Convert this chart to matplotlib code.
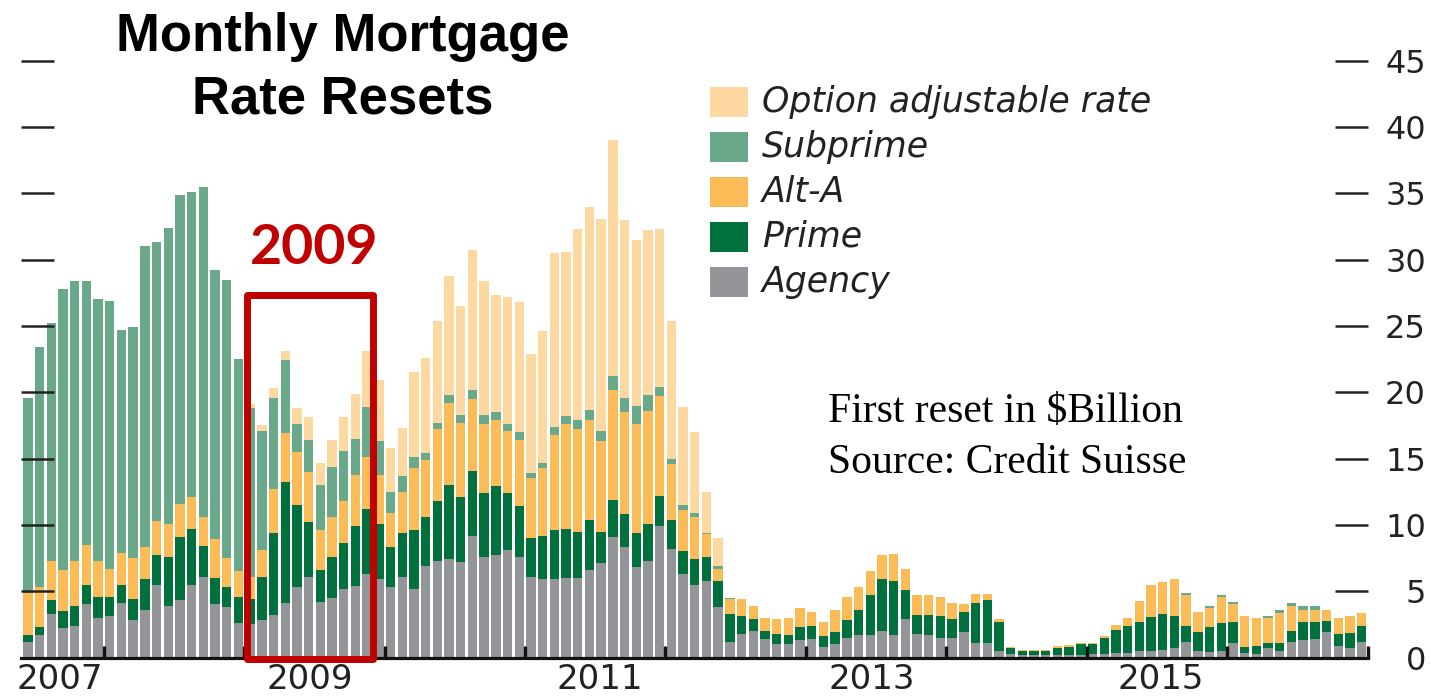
import numpy as np
import matplotlib
matplotlib.use("Agg")
import matplotlib.pyplot as plt
from matplotlib.patches import Rectangle

# monthly first resets, $ billion, June 2007 - December 2016
agency = [1.2, 1.7, 3.3, 2.2, 2.4, 4.0, 3.0, 3.1, 4.1, 2.8, 3.6, 5.5, 3.9, 4.3, 5.5, 6.1, 4.0, 3.8, 2.6,
          2.5, 2.8, 3.2, 4.1, 5.3, 6.1, 4.2, 4.5, 5.2, 5.4, 6.3, 5.9,
          5.3, 6.1, 5.2, 6.9, 7.3, 7.4, 7.2, 9.2, 7.6, 7.7, 8.1, 7.6,
          6.1, 5.9, 5.9, 6.0, 6.0, 6.6, 7.1, 9.1, 8.3, 6.8, 7.3, 9.9,
          8.2, 6.3, 5.5, 5.8, 3.8, 1.2, 1.8, 2.0, 1.4, 1.0, 1.0, 1.3,
          1.4, 0.8, 1.0, 1.5, 1.7, 1.7, 2.0, 1.7, 2.9, 1.8, 1.7, 1.5,
          1.5, 1.9, 1.1, 1.1, 0.5, 0.3, 0.2, 0.2, 0.2, 0.2, 0.2, 0.2,
          0.25, 0.3, 0.35, 0.35, 0.5, 0.5, 0.6, 0.75, 1.2, 0.5, 0.4, 0.5,
          1.1, 0.35, 0.3, 0.7, 0.5, 1.15, 1.3, 1.4, 1.9, 0.85, 0.75, 1.2]
prime = [0.5, 0.6, 1.0, 1.3, 1.5, 1.5, 1.6, 1.5, 1.4, 1.6, 2.3, 2.2, 3.7, 4.8, 4.2, 2.3, 2.0, 1.5, 2.0,
         1.9, 3.3, 6.2, 9.1, 6.2, 4.1, 2.4, 3.1, 3.4, 4.5, 4.9, 4.2,
         3.0, 3.3, 4.4, 3.7, 4.5, 5.6, 4.9, 4.9, 4.8, 5.2, 4.3, 3.8,
         2.9, 3.3, 3.7, 3.7, 3.5, 3.8, 2.4, 2.8, 2.5, 2.6, 2.8, 2.3,
         2.2, 1.7, 1.9, 1.8, 2.0, 2.1, 1.3, 0.9, 0.6, 0.8, 0.7, 1.0,
         1.0, 0.8, 0.9, 1.3, 1.9, 3.0, 3.9, 4.1, 2.2, 1.4, 1.5, 1.6,
         1.4, 1.5, 3.0, 3.2, 2.2, 0.4, 0.3, 0.3, 0.3, 0.5, 0.6, 0.8,
         0.75, 1.2, 1.7, 2.05, 2.2, 2.55, 2.7, 2.4, 1.15, 1.4, 1.9, 2.1,
         1.6, 0.45, 0.6, 0.4, 0.6, 0.85, 1.4, 1.3, 0.85, 0.9, 1.1, 1.15]
alt_a = [3.2, 3.0, 3.0, 3.1, 3.4, 3.0, 2.7, 2.1, 2.4, 3.1, 2.4, 2.6, 2.5, 2.5, 2.4, 2.2, 2.9, 2.2, 1.9,
         1.7, 2.0, 3.3, 3.7, 4.0, 3.8, 3.0, 3.0, 3.2, 3.9, 3.9, 3.7,
         2.6, 3.1, 4.7, 4.3, 5.4, 6.2, 5.6, 5.4, 5.2, 5.0, 4.7, 5.0,
         4.5, 5.1, 7.2, 7.9, 7.7, 7.5, 6.8, 8.3, 7.7, 8.2, 8.5, 7.5,
         4.2, 3.1, 3.2, 1.7, 0.9, 1.1, 1.3, 1.0, 1.0, 1.1, 1.3, 1.4,
         1.0, 1.1, 1.7, 1.8, 1.7, 1.8, 1.8, 2.0, 1.6, 1.5, 1.5, 1.5,
         1.2, 0.6, 0.7, 0.5, 0.2, 0.1, 0.05, 0.05, 0.05, 0.15, 0.15, 0.1,
         0.1, 0.1, 0.4, 0.6, 1.55, 2.4, 2.4, 2.75, 2.4, 1.55, 1.4, 2.0,
         1.35, 2.3, 2.1, 1.9, 2.25, 1.9, 0.85, 0.9, 0.8, 1.25, 1.3, 1.0]
subprime = [14.7, 18.1, 17.9, 21.2, 21.1, 19.9, 19.7, 20.2, 16.8, 17.4, 22.7, 21.0, 22.3, 23.3, 23.0, 24.9, 20.3, 21.0, 16.0,
            12.7, 9.0, 6.9, 5.5, 2.1, 2.4, 3.4, 3.8, 3.8, 2.7, 3.8, 2.5,
            1.6, 1.2, 0.8, 0.5, 0.5, 0.6, 0.6, 0.7, 0.7, 0.6, 0.5, 0.6,
            0.4, 0.4, 0.6, 0.6, 0.7, 0.8, 0.8, 1.0, 1.1, 1.4, 1.2, 0.7,
            0.4, 0.4, 0.3, 0.1, 0.2, 0.1, 0.0, 0.0, 0.0, 0.0, 0.0, 0.0,
            0.0, 0.0, 0.0, 0.0, 0.0, 0.0, 0.0, 0.0, 0.0, 0.0, 0.0, 0.0,
            0.0, 0.0, 0.0, 0.0, 0.0, 0.0, 0.0, 0.0, 0.0, 0.0, 0.0, 0.0,
            0.0, 0.0, 0.0, 0.0, 0.0, 0.0, 0.0, 0.0, 0.1, 0.0, 0.2, 0.1,
            0.15, 0.0, 0.0, 0.1, 0.25, 0.2, 0.3, 0.25, 0.0, 0.0, 0.0, 0.0]
option_arm = [0.0] * 19 + [
              0.3, 0.4, 0.7, 0.7, 1.2, 1.7, 1.7, 2.0, 2.5, 3.4, 4.2, 4.6,
              3.3, 3.6, 6.4, 7.2, 7.7, 9.0, 8.2, 10.5, 10.1, 8.8, 9.6, 9.8,
              9.0, 9.9, 13.1, 12.4, 14.4, 15.3, 16.0, 17.8, 13.4, 12.5, 12.4, 11.9,
              10.4, 7.4, 6.1, 3.1, 2.1] + [0.0] * 55

series = [
    ("Agency", agency, "#939598"),
    ("Prime", prime, "#00703c"),
    ("Alt-A", alt_a, "#fbbc57"),
    ("Subprime", subprime, "#6aa88a"),
    ("Option adjustable rate", option_arm, "#fdd8a0"),
]

year_labels = ["2007", "2009", "2011", "2013", "2015"]
year_label_pos = [2.75, 24.1, 48.9, 72.15, 96.8]
year_starts = [6.5, 18.5, 30.5, 42.5, 54.5, 66.5, 78.5, 90.5, 102.5, 114.5]

W, H = 1431, 696
fig = plt.figure(figsize=(W / 100, H / 100), dpi=100)
ax = fig.add_axes([21 / W, 38.5 / H, 1346.5 / W, 610 / H])

x = np.arange(len(agency))
bottom = np.zeros(len(agency))
for name, vals, col in series:
    vals = np.array(vals)
    ax.bar(x, vals, width=0.8, bottom=bottom, color=col, linewidth=0)
    bottom += vals

ax.set_xlim(-0.585, 114.5)
ax.set_ylim(0, 46)

for s in ["top", "left", "right"]:
    ax.spines[s].set_visible(False)
ax.spines["bottom"].set_linewidth(2.3)
ax.spines["bottom"].set_color("#111111")

ax.set_yticks(np.arange(0, 50, 5))
ax.tick_params(axis="y", which="major", left=True, right=True, direction="in",
               length=23.5, width=1.8, color="#222222",
               labelleft=False, labelright=True, pad=42,
               labelsize=23, labelcolor="#222222")
for lab in ax.get_yticklabels():
    lab.set_horizontalalignment("right")

ax.set_xticks(year_starts)
ax.set_xticklabels([])
ax.tick_params(axis="x", which="major", direction="in", length=8.5, width=2.4,
               color="#111111")
ax.set_xticks(year_label_pos, minor=True)
ax.set_xticklabels(year_labels, minor=True)
ax.tick_params(axis="x", which="minor", length=0, pad=4, labelsize=24.5,
               labelcolor="#222222")

# the 2009 highlight box
box = Rectangle((18.69, -0.15), 29.54 - 18.69, 27.45, fill=False,
                edgecolor="#c00000", linewidth=5, joinstyle="round",
                clip_on=False, zorder=5)
ax.add_patch(box)
ax.text(24.46, 30.9, "2009", color="#c00000", fontsize=40, fontweight="bold",
        family="Lato", ha="center", va="center")

# title
fig.text(343 / W, 1 - 37 / H, "Monthly Mortgage", fontsize=38, fontweight="bold",
         family="Liberation Sans", ha="center", va="center")
fig.text(343 / W, 1 - 100 / H, "Rate Resets", fontsize=38, fontweight="bold",
         family="Liberation Sans", ha="center", va="center")

# legend, top entry first
for k, (name, vals, col) in enumerate(series[::-1]):
    yc = 102 + 45 * k
    fig.patches.append(Rectangle((710 / W, 1 - (yc + 15) / H), 38 / W, 30 / H,
                                 transform=fig.transFigure, color=col, linewidth=0))
    fig.text(762 / W, 1 - yc / H, name, fontsize=25, style="italic",
             family="DejaVu Sans", color="#222222", ha="left", va="center")

fig.text(828 / W, 1 - 412 / H, "First reset in \\$Billion", fontsize=30,
         family="Liberation Serif", ha="left", va="center")
fig.text(828 / W, 1 - 463 / H, "Source: Credit Suisse", fontsize=30,
         family="Liberation Serif", ha="left", va="center")

fig.savefig("out.png", dpi=100)
